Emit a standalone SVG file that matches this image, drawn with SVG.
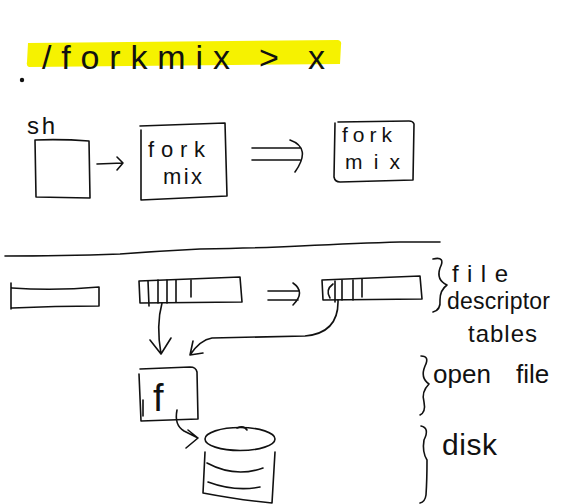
<svg xmlns="http://www.w3.org/2000/svg" width="573" height="504" viewBox="0 0 573 504">
<style>
.ink{fill:none;stroke:#111;stroke-width:1.6;stroke-linecap:round;stroke-linejoin:round}
.txt{font-family:"Liberation Sans","Open Sans",sans-serif;fill:#111}
</style>
<rect width="573" height="504" fill="#fff"/>
<g id="command">
<path d="M28,43 L338,40 Q342,41 341,45 L340,64 L29,67 Q26,66 27,62 Z" fill="#f6f200"/>
<circle cx="22" cy="80" r="2.2" fill="#111"/>
<text class="txt" x="42" y="69" font-size="34" textLength="283" lengthAdjust="spacing">/forkmix &gt; x</text>
</g>
<g id="sh">
<text class="txt" x="27" y="134" font-size="24" textLength="28">sh</text>
<path class="ink" d="M35,140 L36,197 L90,198 L89,141 Q62,139 35,140"/>
</g>
<g id="forkmix1">
<path class="ink" d="M141,130 L141,200 L227,196 L225,123 L140,126"/>
<text class="txt" x="148" y="157" font-size="22" textLength="57">fork</text>
<text class="txt" x="163" y="184" font-size="22" textLength="39">mix</text>
</g>
<g id="forkmix2">
<path class="ink" d="M335,123 L334,177 Q335,182 340,182 L413,180 L414,124 Q413,121 409,121 L338,122"/>
<text class="txt" x="342" y="142" font-size="21" textLength="50">fork</text>
<text class="txt" x="345" y="169" font-size="21" textLength="55">mix</text>
</g>
<g id="divider">
<path class="ink" d="M5,256 Q60,256 120,254 Q160,251 200,249 Q260,248 300,246 Q360,243 400,242 L440,242"/>
</g>
<g id="fdtable1">
<path class="ink" d="M11,283 L11,309 M12,288 Q55,291 99,287 L99,306 Q55,306 12,308"/>
</g>
<g id="fdtable2">
<path class="ink" d="M139,281 L240,277 L242,302 L140,303 Z"/>
<path class="ink" d="M148,281 L149,306 M158,280 L158,303 M167,280 L167,303 M176,280 L176,302 M191,280 L191,297"/>
</g>
<g id="fdtable3">
<path class="ink" d="M322,280 L420,276 L422,299 L323,300 Z"/>
<path class="ink" d="M333,284 Q325,290 330,298 M335,281 L335,302 M342,280 L342,300 M353,280 L353,300 M362,279 L362,297"/>
</g>
<g id="openfile-f">
<path class="ink" d="M140,369 L190,367 Q196,367 197,372 L198,419 L141,421 L139,374 M143,400 L143,416"/>
<text class="txt" x="153" y="411" font-size="38">f</text>
</g>
<g id="disk">
<ellipse class="ink" cx="240" cy="439" rx="35" ry="11.5"/>
<path class="ink" d="M237,428 Q244,425 247,430"/>
<path class="ink" d="M205,452 L203,493 Q240,500 272,503 L275,452"/>
<path class="ink" d="M207,463 Q235,478 263,468 M208,482 Q235,492 260,487"/>
</g>
<g id="labels">
<path class="ink" d="M433,259 Q446,256 440,268 Q436,280 447,285 Q440,290 440,300 Q441,310 433,312"/>
<text class="txt" x="452" y="282" font-size="24" textLength="56">file</text>
<text class="txt" x="447" y="309" font-size="23" textLength="103">descriptor</text>
<text class="txt" x="468" y="342" font-size="24" textLength="69">tables</text>
<path class="ink" d="M421,356 Q430,356 425,366 Q420,378 429,384 Q421,392 424,402 Q426,412 420,415"/>
<text class="txt" x="433" y="383" font-size="26" word-spacing="18">open file</text>
<path class="ink" d="M421,426 Q430,428 424,440 Q422,452 427,460 Q427,480 426,495 Q425,502 420,503"/>
<text class="txt" x="442" y="455" font-size="30" textLength="55">disk</text>
</g>
<g id="connectors">
<path class="ink" d="M97,164 L123,163 M117,157 L123,163 L117,170"/>
<path class="ink" d="M252,148 L300,148 M252,160 L300,160 M290,140 Q312,148 295,172"/>
<path class="ink" d="M268,291 L298,291 M268,300 L298,300 M293,283 Q306,292 293,305"/>
<path class="ink" d="M162,303 Q156,325 161,354 M150,340 L161,354 L171,338"/>
<path class="ink" d="M338,300 Q339,333 305,336 L212,338 Q200,340 190,355 M193,341 L190,355 L203,353"/>
<path class="ink" d="M177,410 Q174,425 184,431 Q192,435 198,438 M188,430 L198,438 L186,448"/>
</g>
</svg>
